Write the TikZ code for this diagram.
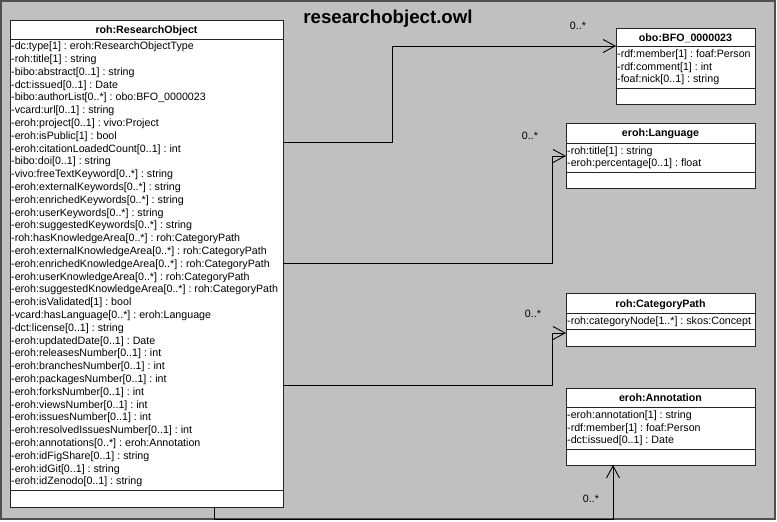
\documentclass[tikz,border=0pt]{standalone}
\usepackage{fontspec}
\setmainfont{Liberation Sans}
\usetikzlibrary{arrows.meta,calc}
\definecolor{framegray}{HTML}{C0C0C0}
\definecolor{frameline}{HTML}{505050}
\frenchspacing
\begin{document}
\frenchspacing
\begin{tikzpicture}[x=1pt,y=-1pt,
  comp/.style={draw=black!85, fill=white, line width=0.8pt, inner sep=0pt, outer sep=0pt, anchor=north west},
  attr/.style={font=\frenchspacing\fontsize{10.67}{12.8}\selectfont, inner sep=0pt, anchor=base west},
  head/.style={font=\bfseries\fontsize{10.67}{12.8}\selectfont, inner sep=0pt, anchor=base},
  mult/.style={font=\fontsize{10.67}{12.8}\selectfont, inner sep=0pt, anchor=base},
  assoc/.style={draw=black, line width=0.9pt, -{Straight Barb[length=12pt,width=13pt]}},
  link/.style={draw=black, line width=0.9pt}]
\useasboundingbox (0,0) rectangle (777,522);
% frame
\draw[fill=framegray, draw=frameline, line width=1.2pt] (1,1) rectangle (775,519);
\node[font=\bfseries\fontsize{18.67}{22}\selectfont, inner sep=0pt, anchor=base] (title) at (388,23.5) {researchobject.owl};

% main class
\node[comp, minimum width=273pt, minimum height=19pt] (mhead) at (10,20) {};
\node[comp, minimum width=273pt, minimum height=451pt] (mattr) at (10,39) {};
\node[comp, minimum width=273pt, minimum height=17pt] (mops) at (10,490) {};
\node[head] (mtitle) at (146.5,33.3) {roh:ResearchObject};
\foreach \t [count=\i] in {
 {-dc:type[1] : eroh:ResearchObjectType},
 {-roh:title[1] : string},
 {-bibo:abstract[0..1] : string},
 {-dct:issued[0..1] : Date},
 {-bibo:authorList[0..*] : obo:BFO\_0000023},
 {-vcard:url[0..1] : string},
 {-eroh:project[0..1] : vivo:Project},
 {-eroh:isPublic[1] : bool},
 {-eroh:citationLoadedCount[0..1] : int},
 {-bibo:doi[0..1] : string},
 {-vivo:freeTextKeyword[0..*] : string},
 {-eroh:externalKeywords[0..*] : string},
 {-eroh:enrichedKeywords[0..*] : string},
 {-eroh:userKeywords[0..*] : string},
 {-eroh:suggestedKeywords[0..*] : string},
 {-roh:hasKnowledgeArea[0..*] : roh:CategoryPath},
 {-eroh:externalKnowledgeArea[0..*] : roh:CategoryPath},
 {-eroh:enrichedKnowledgeArea[0..*] : roh:CategoryPath},
 {-eroh:userKnowledgeArea[0..*] : roh:CategoryPath},
 {-eroh:suggestedKnowledgeArea[0..*] : roh:CategoryPath},
 {-eroh:isValidated[1] : bool},
 {-vcard:hasLanguage[0..*] : eroh:Language},
 {-dct:license[0..1] : string},
 {-eroh:updatedDate[0..1] : Date},
 {-eroh:releasesNumber[0..1] : int},
 {-eroh:branchesNumber[0..1] : int},
 {-eroh:packagesNumber[0..1] : int},
 {-eroh:forksNumber[0..1] : int},
 {-eroh:viewsNumber[0..1] : int},
 {-eroh:issuesNumber[0..1] : int},
 {-eroh:resolvedIssuesNumber[0..1] : int},
 {-eroh:annotations[0..*] : eroh:Annotation},
 {-eroh:idFigShare[0..1] : string},
 {-eroh:idGit[0..1] : string},
 {-eroh:idZenodo[0..1] : string}}
 { \node[attr] (ma\i) at (11,{49.7+12.8*(\i-1)}) {\t}; }

% obo:BFO_0000023
\node[comp, minimum width=139pt, minimum height=18pt] (bfohead) at (616,28) {};
\node[comp, minimum width=139pt, minimum height=42pt] (bfoattr) at (616,46) {};
\node[comp, minimum width=139pt, minimum height=16pt] (bfoops) at (616,88) {};
\node[head] (bfotitle) at (685.5,41) {obo:BFO\_0000023};
\node[attr] (bfoa1) at (617,57.3) {-rdf:member[1] : foaf:Person};
\node[attr] (bfoa2) at (617,70.1) {-rdf:comment[1] : int};
\node[attr] (bfoa3) at (617,82.9) {-foaf:nick[0..1] : string};

% eroh:Language
\node[comp, minimum width=189pt, minimum height=20pt] (langhead) at (566,123) {};
\node[comp, minimum width=189pt, minimum height=29pt] (langattr) at (566,143) {};
\node[comp, minimum width=189pt, minimum height=16pt] (langops) at (566,172) {};
\node[head] (langtitle) at (660.5,136.7) {eroh:Language};
\node[attr] (langa1) at (567,154) {-roh:title[1] : string};
\node[attr] (langa2) at (567,166.8) {-eroh:percentage[0..1] : float};

% roh:CategoryPath
\node[comp, minimum width=189pt, minimum height=20pt] (cathead) at (566,293) {};
\node[comp, minimum width=189pt, minimum height=16pt] (catattr) at (566,313) {};
\node[comp, minimum width=189pt, minimum height=17pt] (catops) at (566,329) {};
\node[head] (cattitle) at (660.5,307) {roh:CategoryPath};
\node[attr] (cata1) at (567,324.7) {-roh:categoryNode[1..*] : skos:Concept};

% eroh:Annotation
\node[comp, minimum width=189pt, minimum height=19pt] (annhead) at (566,388) {};
\node[comp, minimum width=189pt, minimum height=42pt] (annattr) at (566,407) {};
\node[comp, minimum width=189pt, minimum height=16pt] (annops) at (566,449) {};
\node[head] (anntitle) at (660.5,401.3) {eroh:Annotation};
\node[attr] (anna1) at (567,418.3) {-eroh:annotation[1] : string};
\node[attr] (anna2) at (567,431.1) {-rdf:member[1] : foaf:Person};
\node[attr] (anna3) at (567,443.9) {-dct:issued[0..1] : Date};

% connectors
\coordinate (k1) at (392,142);
\draw[assoc] (mattr.east |- k1) -- (k1) |- (bfoattr.north west);
\coordinate (k2) at (552,263);
\draw[assoc] (mattr.east |- k2) -- (k2) |- ($(langattr.north west)+(0,13)$);
\coordinate (k3) at (552,385);
\draw[assoc] (mattr.east |- k3) -- (k3) |- ($(catops.north west)+(0,4)$);
\coordinate (k4) at (214,519);
\coordinate (k5) at (613,519);
\draw[assoc] (mops.south -| k4) -- (k4) -- (k5) -- (annops.south -| k5);

% multiplicities
\node[mult] (m1) at (578,29) {0..*};
\node[mult] (m2) at (530,139) {0..*};
\node[mult] (m3) at (533,317) {0..*};
\node[mult] (m4) at (591,502.5) {0..*};
\end{tikzpicture}
\end{document}
